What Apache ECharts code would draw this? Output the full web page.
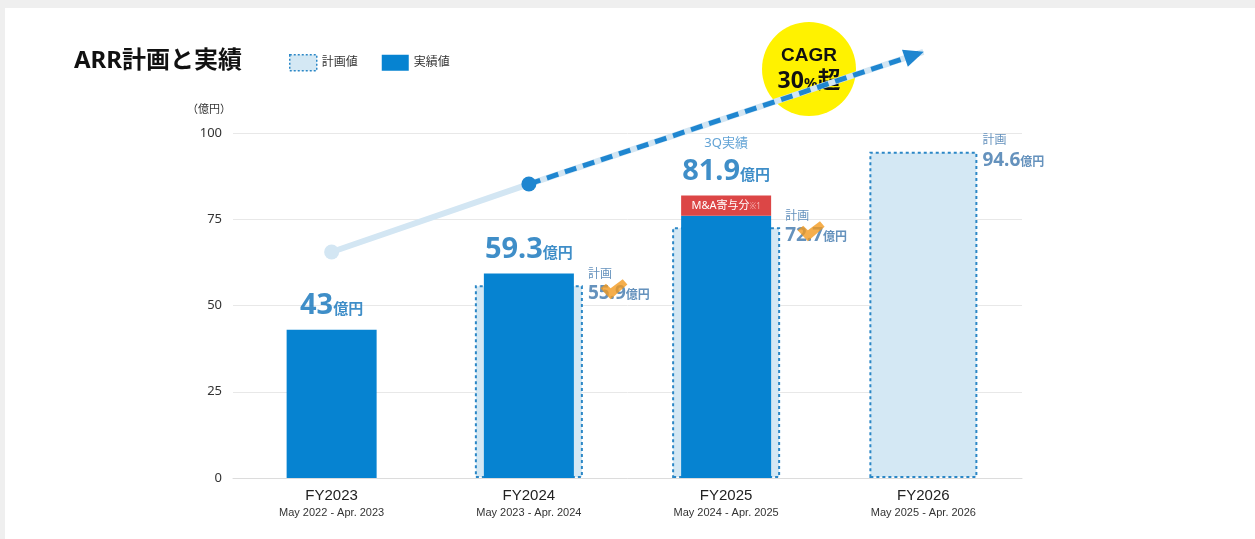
<!DOCTYPE html>
<html>
<head>
<meta charset="utf-8">
<script src="https://cdn.jsdelivr.net/npm/echarts@6/dist/echarts.min.js"></script>
<style>
  html, body { margin: 0; padding: 0; background: #efefef; width: 1255px; height: 539px; overflow: hidden; }
  #chart { position: absolute; left: 5px; top: 8px; width: 1250px; height: 531px; background: #ffffff; }
</style>
</head>
<body>
<div id="chart"></div>
<script>
// Fiscal years and their periods
const years = ['FY2023', 'FY2024', 'FY2025', 'FY2026'];
const periods = ['May 2022 - Apr. 2023', 'May 2023 - Apr. 2024', 'May 2024 - Apr. 2025', 'May 2025 - Apr. 2026'];

// ARR (億円)
const planValues = [null, 55.9, 72.7, 94.6];      // 計画値
const actualTotals = [43, 59.3, 81.9, null];      // 実績値 (FY2025 = 3Q実績)
const maContribution = [null, null, 5.9, null];   // M&A寄与分
const planAchieved = [false, true, true, false];  // 計画達成チェック

// CAGR trend line (億円 scale)
const trendValues = [65.5, 85.2, null, 123.5];

const yTicks = [0, 25, 50, 75, 100];

const BLUE = '#0683d1';
const PLAN_FILL = '#d4e8f4';
const PLAN_BORDER = '#2b87c6';
const LABEL_BLUE = '#0f72ba';
const PLAN_TEXT = '#6592bd';
const JP = '"Noto Sans", "Noto Sans CJK JP", sans-serif';

const organic = actualTotals.map((t, i) => t == null ? null : +(t - (maContribution[i] || 0)).toFixed(1));
const checkData = planValues.map((v, i) => planAchieved[i] ? [i, v] : null).filter(Boolean);

const chart = echarts.init(document.getElementById('chart'));

chart.setOption({
  animation: false,
  textStyle: { fontFamily: JP },
  title: {
    text: 'ARR計画と実績',
    left: 64, top: 36,
    textStyle: { fontSize: 24, fontWeight: 'bold', color: '#111', fontFamily: JP }
  },
  legend: {
    left: 279, top: 41,
    itemWidth: 27, itemHeight: 16, itemGap: 24,
    textStyle: { fontSize: 12, color: '#333', fontFamily: JP },
    data: [
      { name: '計画値', icon: 'rect', itemStyle: { color: PLAN_FILL, borderColor: PLAN_BORDER, borderWidth: 1.5, borderType: [2, 2] } },
      { name: '実績値', icon: 'rect', itemStyle: { color: BLUE } }
    ]
  },
  grid: { left: 228, right: 233, top: 125, bottom: 61 },
  xAxis: [
    {
      type: 'category',
      data: years,
      axisTick: { show: false },
      axisLine: { lineStyle: { color: '#dcdcdc', width: 1 } },
      axisLabel: {
        margin: 8,
        formatter: (v, i) => '{fy|' + v + '}\n{per|' + periods[i] + '}',
        rich: {
          fy: { fontSize: 15, color: '#222', fontFamily: '"Liberation Sans Narrow", "Liberation Sans", sans-serif', lineHeight: 19 },
          per: { fontSize: 11, color: '#333', fontFamily: '"Liberation Sans Narrow", "Liberation Sans", sans-serif', lineHeight: 15 }
        }
      }
    },
    {
      // plan bars sit on their own copy of the category axis so they centre on each year
      type: 'category',
      data: years,
      show: false
    }
  ],
  yAxis: {
    type: 'value',
    min: yTicks[0], max: yTicks[yTicks.length - 1], interval: 25,
    name: '（億円）',
    nameLocation: 'end',
    nameGap: 18,
    nameTextStyle: { fontSize: 11, color: '#333', align: 'right', padding: [0, 2, 0, 0] },
    axisLabel: { fontSize: 13, color: '#333', margin: 11, fontFamily: '"Noto Sans", sans-serif' },
    axisLine: { show: false },
    axisTick: { show: false },
    splitLine: { lineStyle: { color: '#e8e8e8', width: 1 } }
  },
  series: [
    {
      name: '計画値',
      type: 'bar',
      xAxisIndex: 1,
      data: planValues,
      barWidth: 108,
      z: 1,
      itemStyle: { color: PLAN_FILL, borderColor: PLAN_BORDER, borderWidth: 2, borderType: [3, 3] },
      label: {
        show: true,
        position: ['100%', 0],
        offset: [5, 0],
        align: 'left',
        verticalAlign: 'middle',
        formatter: p => '{t|計画}\n{n|' + p.value + '}{u|億円}',
        rich: {
          t: { fontSize: 12, color: PLAN_TEXT, lineHeight: 17 },
          n: { fontSize: 19, fontWeight: 'bold', color: PLAN_TEXT, lineHeight: 22, fontFamily: '"Noto Sans", sans-serif' },
          u: { fontSize: 12, fontWeight: 'bold', color: PLAN_TEXT, lineHeight: 22, padding: [4, 0, 0, 0] }
        }
      }
    },
    {
      name: '実績値',
      type: 'bar',
      stack: 'actual',
      data: organic,
      barWidth: 90,
      z: 2,
      itemStyle: { color: BLUE }
    },
    {
      name: 'M&A寄与分',
      type: 'bar',
      stack: 'actual',
      data: maContribution,
      barWidth: 90,
      z: 2,
      itemStyle: { color: '#dc4646' },
      label: {
        show: true,
        position: 'inside',
        formatter: '{a|M&A寄与分}{b|※1}',
        rich: {
          a: { fontSize: 11, color: '#ffffff' },
          b: { fontSize: 8, color: '#f6b4b4', padding: [2, 0, 0, 0] }
        }
      }
    },
    {
      name: '実績合計',
      type: 'scatter',
      data: actualTotals,
      symbolSize: 0,
      z: 5,
      label: {
        show: true,
        position: 'top',
        distance: 8,
        formatter: p => (p.dataIndex === 2 ? '{q|3Q実績}\n' : '') + '{n|' + p.value + '}{u|億円}',
        rich: {
          q: { fontSize: 13, color: '#3b8ccb', lineHeight: 24, align: 'center' },
          n: { fontSize: 29, fontWeight: 'bold', color: LABEL_BLUE, lineHeight: 32, fontFamily: '"Noto Sans", sans-serif' },
          u: { fontSize: 15, fontWeight: 'bold', color: LABEL_BLUE, lineHeight: 32, padding: [8, 0, 0, 0] }
        }
      }
    },
    {
      name: '達成',
      type: 'scatter',
      data: checkData,
      symbol: 'path://M0,10 L6,5 L11,10 L24,0 L29,6 L11,22 Z',
      symbolSize: [27, 20],
      symbolOffset: [85, 4],
      z: 10,
      itemStyle: { color: '#f29a1f' }
    },
    {
      name: 'トレンド',
      type: 'line',
      data: trendValues,
      connectNulls: true,
      clip: false,
      z: 3,
      symbol: 'circle',
      symbolSize: (v, p) => p.dataIndex === 0 ? 15 : 0,
      showSymbol: true,
      lineStyle: { color: '#d3e6f3', width: 6 },
      itemStyle: { color: '#d3e6f3' }
    },
    {
      name: 'トレンド予測',
      type: 'line',
      data: trendValues.map((v, i) => i === 0 ? null : v),
      connectNulls: true,
      clip: false,
      z: 4,
      symbol: (v, p) => p.dataIndex === 3 ? 'triangle' : 'circle',
      symbolSize: (v, p) => p.dataIndex === 3 ? [18, 20] : 15,
      symbolRotate: (v, p) => p.dataIndex === 3 ? -71 : 0,
      symbolOffset: (v, p) => p.dataIndex === 3 ? [-9, 3] : [0, 0],
      showSymbol: true,
      lineStyle: { color: '#1f86d0', width: 5, type: [12, 7] },
      itemStyle: { color: '#1f86d0' }
    }
  ],
  graphic: [
    {
      type: 'group',
      left: 757, top: 14, z: 100,
      children: [
        { type: 'circle', shape: { cx: 47, cy: 47, r: 47 }, style: { fill: '#fff200' } },
        {
          type: 'text', x: 47, y: 47,
          style: {
            text: '{c|CAGR}\n{n|30}{p|%}{n|超}',
            align: 'center', verticalAlign: 'middle',
            rich: {
              c: { fontSize: 19, fontWeight: 'bold', fill: '#111', fontFamily: '"Liberation Sans", sans-serif', lineHeight: 24, align: 'center' },
              n: { fontSize: 23, fontWeight: 'bold', fill: '#111', fontFamily: JP, lineHeight: 26 },
              p: { fontSize: 15, fontWeight: 'bold', fill: '#111', fontFamily: JP, lineHeight: 26, padding: [5, 0, 0, 0] }
            }
          }
        }
      ]
    }
  ]
});
</script>
</body>
</html>
